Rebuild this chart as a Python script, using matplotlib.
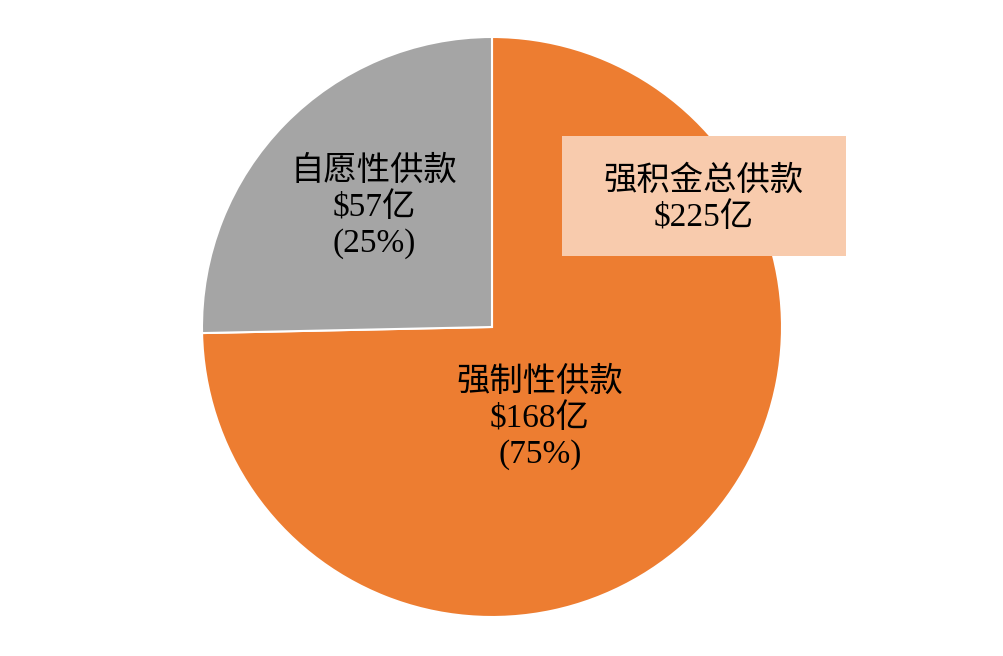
import matplotlib
matplotlib.use('Agg')
import matplotlib.pyplot as plt
from matplotlib.patches import Rectangle

plt.rcParams['font.family'] = ['Liberation Serif', 'Noto Sans CJK SC', 'DejaVu Sans']

# data
labels = ['强制性供款', '自愿性供款']
values = [168, 57]
colors = ['#ED7D31', '#A5A5A5']
total_label = '强积金总供款'

total = sum(values)
pcts = [round(v / total * 100) for v in values]

W, H = 1004, 656
fig = plt.figure(figsize=(W / 100, H / 100), dpi=100)
ax = fig.add_axes([0, 0, 1, 1])

cx, cy, r = 492, H - 327, 290
ax.pie(values, colors=colors, startangle=90, counterclock=False,
       center=(cx, cy), radius=r, frame=True,
       wedgeprops=dict(edgecolor='white', linewidth=1.5))
ax.set_xlim(0, W)
ax.set_ylim(0, H)
ax.set_aspect('equal')
ax.axis('off')

fs = 24
ls = 1.22
# slice labels
ax.text(540, H - 418, f'{labels[0]}\n${values[0]}亿\n({pcts[0]}%)',
        ha='center', va='center', fontsize=fs, linespacing=ls)
ax.text(374, H - 207, f'{labels[1]}\n${values[1]}亿\n({pcts[1]}%)',
        ha='center', va='center', fontsize=fs, linespacing=ls)

# total box
ax.add_patch(Rectangle((562, H - 256), 284, 120, facecolor='#F8CBAD',
                       edgecolor='none', zorder=3))
ax.text(704, H - 199, f'{total_label}\n${total}亿', ha='center', va='center',
        fontsize=fs, linespacing=ls, zorder=4)

fig.savefig('out.png', dpi=100)
